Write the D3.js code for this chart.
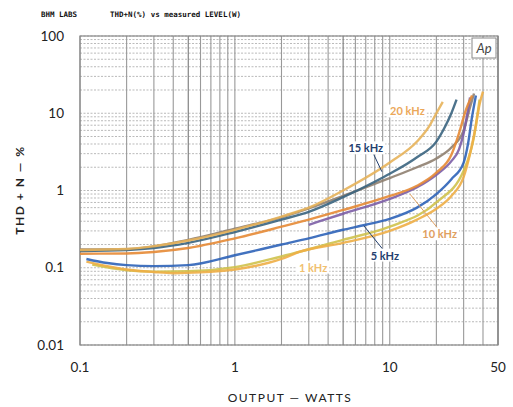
<!DOCTYPE html>
<html>
<head>
<meta charset="utf-8">
<script src="https://cdn.jsdelivr.net/npm/d3@7"></script>
<style>
  body { margin: 0; background: #fff; }
  text { font-family: Lato, "DejaVu Sans", sans-serif; }
</style>
</head>
<body>
<div id="chart"></div>
<script>
// readings: [watts, THD+N %]
const curve20k = [[0.1,0.17],[0.2,0.175],[0.3,0.19],[0.5,0.225],[1,0.31],[2,0.46],[3,0.6],[5,1.0],[10,2.3],[15,4.3],[18,6.8],[20,10],[22,14]];
const curve15k = [[0.1,0.165],[0.2,0.17],[0.3,0.18],[0.5,0.21],[1,0.29],[2,0.42],[3,0.53],[5,0.82],[8,1.3],[10,1.65],[15,2.7],[20,4.3],[23,7],[25,10],[27,15]];
const curve10k = [[0.1,0.152],[0.2,0.153],[0.3,0.16],[0.5,0.18],[1,0.24],[2,0.34],[3,0.42],[5,0.56],[10,0.85],[15,1.15],[20,1.7],[25,2.9],[28,5.5],[31,11],[34,17]];
const curve5k = [[0.11,0.13],[0.15,0.115],[0.2,0.108],[0.3,0.105],[0.5,0.108],[1,0.145],[2,0.2],[3,0.24],[5,0.31],[7,0.36],[10,0.43],[15,0.6],[20,0.9],[25,1.4],[30,2.3],[32,4],[34,9],[36,17]];
const curve1k = [[0.11,0.12],[0.15,0.105],[0.2,0.095],[0.3,0.088],[0.4,0.085],[0.6,0.087],[1,0.095],[2,0.13],[2.6,0.16],[5,0.21],[10,0.3],[15,0.42],[20,0.58],[25,0.85],[30,1.5],[33,3],[36,7],[38,13],[40,19]];
const curveBrown = [[0.1,0.172],[0.2,0.174],[0.5,0.23],[1,0.32],[2,0.45],[5,0.85],[10,1.45],[15,2.0],[20,2.6],[25,3.6],[30,6],[33,12],[35,18]];
const curvePurple = [[3,0.36],[5,0.5],[10,0.78],[15,1.1],[20,1.6],[25,2.4],[28,3.4],[30,5.5],[32,11],[33,16]];
const curveYellow = [[0.12,0.11],[0.2,0.093],[0.3,0.089],[0.5,0.09],[1,0.102],[2,0.14],[5,0.23],[10,0.34],[20,0.7],[30,1.8],[35,5],[38,15]];

const series = [
  {name: "brown", data: curveBrown, color: "#8f7f70"},
  {name: "yellow", data: curveYellow, color: "#cfc24c"},
  {name: "purple", data: curvePurple, color: "#7c5ea6"},
  {name: "1 kHz", data: curve1k, color: "#eeae46"},
  {name: "5 kHz", data: curve5k, color: "#2e63b8"},
  {name: "10 kHz", data: curve10k, color: "#e58a35"},
  {name: "15 kHz", data: curve15k, color: "#3a6480"},
  {name: "20 kHz", data: curve20k, color: "#e7b25a"}
];

// curve labels: text, [watts, %] position, colour, pointer target
const labels = [
  {text: "20 kHz", at: [13, 10.5], color: "#eba85a"},
  {text: "15 kHz", at: [7.0, 3.5], color: "#24406e", to: [8.9, 1.75]},
  {text: "10 kHz", at: [21, 0.27], color: "#e0a060", to: [13.5, 0.9]},
  {text: "5 kHz", at: [9.3, 0.143], color: "#24406e", to: [6.8, 0.35]},
  {text: "1 kHz", at: [3.2, 0.1], color: "#f0c070"}
];

const xTicks = [0.1, 1, 10, 50];
const yTicks = [0.01, 0.1, 1, 10, 100];

let margin = {top: 36, right: 15, bottom: 62, left: 80},
    width = 513 - margin.left - margin.right,
    height = 407 - margin.top - margin.bottom;

const svg = d3.select("#chart")
    .append("svg")
    .attr("width", 513)
    .attr("height", 407);

const g = svg.append("g")
    .attr("transform", `translate(${margin.left}, ${margin.top})`);

const x = d3.scaleLog().domain([0.1, 50]).range([0, width]);
const y = d3.scaleLog().domain([0.01, 100]).range([height, 0]);

/* grid */
const xMinor = [];
[0.1, 1, 10].forEach(d => { for (let i = 1; i < 10; i++) if (d * i <= 50) xMinor.push(d * i); });
xMinor.push(50);
const yMinor = [];
[0.01, 0.1, 1, 10].forEach(d => { for (let i = 1; i < 10; i++) yMinor.push(d * i); });
yMinor.push(100);

g.append("g").selectAll("line")
    .data(yMinor)
    .enter()
    .append("line")
    .attr("x1", 0).attr("x2", width)
    .attr("y1", d => y(d)).attr("y2", d => y(d))
    .attr("stroke", "#a8a8a8")
    .attr("stroke-width", 0.8)
    .attr("stroke-dasharray", "2,1.5");

g.append("g").selectAll("line")
    .data(xMinor)
    .enter()
    .append("line")
    .attr("x1", d => x(d)).attr("x2", d => x(d))
    .attr("y1", 0).attr("y2", height)
    .attr("stroke", (d, i) => (i % 9 === 4 ? "#777" : "#999"))
    .attr("stroke-width", 1.1);

g.append("rect")
    .attr("width", width)
    .attr("height", height)
    .attr("fill", "none")
    .attr("stroke", "#888")
    .attr("stroke-width", 1.2);

/* curves */
const line = d3.line()
    .x(d => x(d[0]))
    .y(d => y(d[1]))
    .curve(d3.curveMonotoneX);

g.append("g").selectAll("path")
    .data(series)
    .enter()
    .append("path")
    .attr("d", d => line(d.data))
    .attr("fill", "none")
    .attr("stroke", d => d.color)
    .attr("stroke-width", 2.4)
    .attr("stroke-opacity", 0.9);

/* labels */
labels.filter(d => d.to).forEach(d => {
    g.append("line")
        .attr("x1", x(d.at[0]) + 8).attr("y1", y(d.at[1]) + 6)
        .attr("x2", x(d.to[0])).attr("y2", y(d.to[1]))
        .attr("stroke", d.color)
        .attr("stroke-width", 1);
});

labels.forEach(d => {
    const t = g.append("text")
        .attr("x", x(d.at[0]))
        .attr("y", y(d.at[1]))
        .attr("dy", "0.35em")
        .attr("text-anchor", "middle")
        .attr("font-size", 11)
        .attr("font-weight", "bold")
        .attr("fill", d.color)
        .text(d.text);
    const b = t.node().getBBox();
    g.insert("rect", () => t.node())
        .attr("x", b.x - 2).attr("y", b.y)
        .attr("width", b.width + 4).attr("height", b.height)
        .attr("fill", "#fff");
});

/* Ap logo */
g.append("rect")
    .attr("x", width - 26).attr("y", 2)
    .attr("width", 24).attr("height", 20)
    .attr("fill", "#fff")
    .attr("stroke", "#888");
g.append("text")
    .attr("x", width - 14).attr("y", 17)
    .attr("text-anchor", "middle")
    .attr("font-size", 13)
    .attr("font-style", "italic")
    .attr("fill", "#444")
    .text("Ap");

/* axes labels */
svg.append("g").selectAll("text")
    .data(yTicks)
    .enter()
    .append("text")
    .attr("x", 64)
    .attr("y", d => margin.top + y(d))
    .attr("dy", "0.35em")
    .attr("text-anchor", "end")
    .attr("font-size", 13.5)
    .attr("fill", "#222")
    .text(d => d);

svg.append("g").selectAll("text")
    .data(xTicks)
    .enter()
    .append("text")
    .attr("x", d => margin.left + x(d))
    .attr("y", 372)
    .attr("text-anchor", "middle")
    .attr("font-size", 13.5)
    .attr("fill", "#222")
    .text(d => d);

svg.append("text")
    .attr("x", 290)
    .attr("y", 402)
    .attr("text-anchor", "middle")
    .attr("font-size", 12)
    .attr("letter-spacing", 1.5)
    .attr("fill", "#222")
    .text("OUTPUT — WATTS");

svg.append("text")
    .attr("transform", "rotate(-90)")
    .attr("x", -190)
    .attr("y", 24)
    .attr("text-anchor", "middle")
    .attr("font-size", 12)
    .attr("font-weight", "bold")
    .attr("letter-spacing", 1.5)
    .attr("fill", "#222")
    .text("THD + N — %");

/* header */
svg.append("text")
    .attr("x", 41).attr("y", 17)
    .style("font-family", "'DejaVu Sans Mono', monospace")
    .style("font-size", "7.5px")
    .style("font-weight", "bold")
    .attr("fill", "#111")
    .text("BHM LABS");
svg.append("text")
    .attr("x", 110).attr("y", 17)
    .style("font-family", "'DejaVu Sans Mono', monospace")
    .style("font-size", "7.5px")
    .style("font-weight", "bold")
    .attr("fill", "#111")
    .text("THD+N(%) vs measured LEVEL(W)");
</script>
</body>
</html>
